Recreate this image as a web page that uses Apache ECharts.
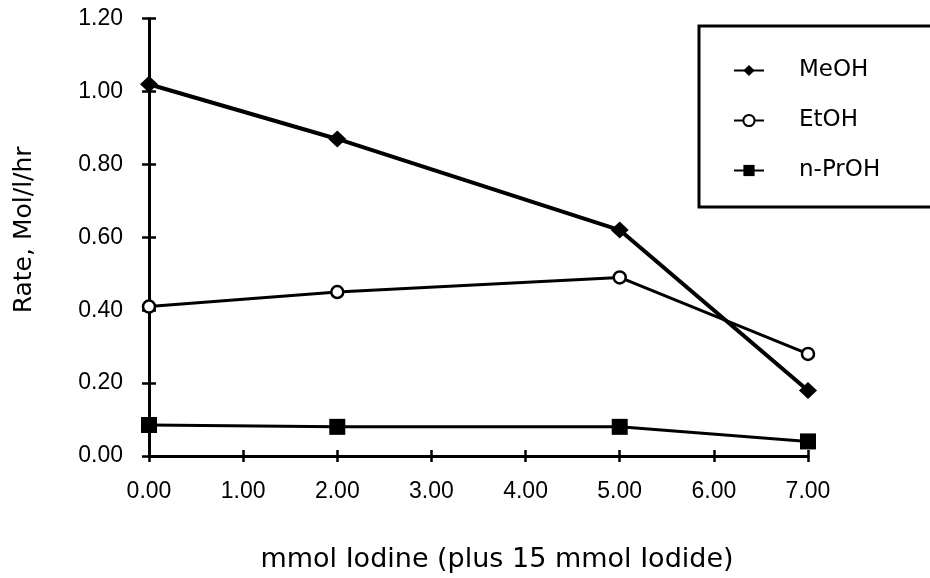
<!DOCTYPE html>
<html>
<head>
<meta charset="utf-8">
<script src="https://cdn.jsdelivr.net/npm/echarts@6/dist/echarts.min.js"></script>
<style>html,body{margin:0;padding:0;background:#fff;}#c{width:930px;height:578px;}</style>
</head>
<body>
<div id="c"></div>
<script>
const xValues = [0, 2, 5, 7];
const meoh = [1.02, 0.87, 0.62, 0.18];
const etoh = [0.41, 0.45, 0.49, 0.28];
const nproh = [0.085, 0.08, 0.08, 0.04];
const seriesNames = ['MeOH', 'EtOH', 'n-PrOH'];
const xTitle = 'mmol Iodine (plus 15 mmol Iodide)';
const yTitle = 'Rate, Mol/l/hr';

const pairs = (ys) => xValues.map((x, i) => [x, ys[i]]);
const labelFont = 'Liberation Sans';
const titleFont = 'DejaVu Sans';

const chart = echarts.init(document.getElementById('c'));
chart.setOption({
  backgroundColor: '#ffffff',
  animation: false,
  grid: { left: 149, right: 122, top: 18.7, bottom: 121.3, containLabel: false },
  legend: {
    orient: 'vertical',
    left: 699, top: 26,
    padding: [33, 80, 25, 34],
    itemGap: 27,
    itemWidth: 30, itemHeight: 14,
    borderColor: '#000', borderWidth: 3,
    backgroundColor: '#fff',
    data: seriesNames,
    textStyle: { fontFamily: titleFont, fontSize: 23, lineHeight: 23, color: '#000', padding: [0, 0, 0, 30] }
  },
  xAxis: [{
    type: 'value', gridIndex: 0, min: 0, max: 7, interval: 1,
    name: xTitle, nameLocation: 'middle', nameGap: 90,
    nameTextStyle: { fontFamily: titleFont, fontSize: 27, color: '#000', padding: [0, 0, 0, 37] },
    axisLine: { onZero: false, lineStyle: { color: '#000', width: 3 } },
    axisTick: { show: true, length: 6, lineStyle: { color: '#000', width: 2.5 } },
    axisLabel: { margin: 24, fontFamily: labelFont, fontSize: 23, color: '#000', formatter: v => v.toFixed(2) },
    splitLine: { show: false }
  }, {
    type: 'value', gridIndex: 0, min: 0, max: 7, interval: 1, position: 'bottom', offset: 0,
    axisLine: { show: true, onZero: false, lineStyle: { color: 'rgba(0,0,0,0)', width: 1 } },
    axisTick: { show: true, inside: true, length: 6, lineStyle: { color: '#000', width: 2.5 } },
    axisLabel: { show: false }, splitLine: { show: false }
  }],
  yAxis: [{
    type: 'value', gridIndex: 0, min: 0, max: 1.2, interval: 0.2,
    name: yTitle, nameLocation: 'middle', nameGap: 112,
    nameTextStyle: { fontFamily: titleFont, fontSize: 25, color: '#000', padding: [0, 0, 0, 15] },
    axisLine: { show: true, onZero: false, lineStyle: { color: '#000', width: 3 } },
    axisTick: { show: true, length: 7, lineStyle: { color: '#000', width: 2.5 } },
    axisLabel: { margin: 26, fontFamily: labelFont, fontSize: 23, color: '#000', formatter: v => v.toFixed(2) },
    splitLine: { show: false }
  }, {
    type: 'value', gridIndex: 0, min: 0, max: 1.2, interval: 0.2, position: 'left', offset: 0,
    axisLine: { show: true, onZero: false, lineStyle: { color: 'rgba(0,0,0,0)', width: 1 } },
    axisTick: { show: true, inside: true, length: 7, lineStyle: { color: '#000', width: 2.5 } },
    axisLabel: { show: false }, splitLine: { show: false }
  }],
  series: [{
    name: seriesNames[0], type: 'line', data: pairs(meoh),
    symbol: 'diamond', symbolSize: [18, 17],
    lineStyle: { color: '#000', width: 4 },
    itemStyle: { color: '#000' }, z: 5
  }, {
    name: seriesNames[1], type: 'line', data: pairs(etoh),
    symbol: 'circle', symbolSize: 12,
    lineStyle: { color: '#000', width: 3 },
    itemStyle: { color: '#fff', borderColor: '#000', borderWidth: 2.5 }, z: 4
  }, {
    name: seriesNames[2], type: 'line', data: pairs(nproh),
    symbol: 'rect', symbolSize: 16,
    lineStyle: { color: '#000', width: 3 },
    itemStyle: { color: '#000' }, z: 3
  }, {
    name: 'ticks', type: 'line', xAxisIndex: 1, yAxisIndex: 1, data: [], silent: true
  }]
});
</script>
</body>
</html>
